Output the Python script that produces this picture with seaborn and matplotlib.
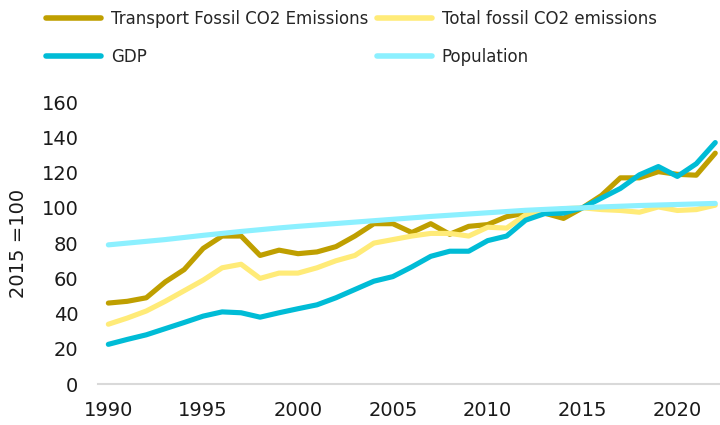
import pandas as pd
import numpy as np
import matplotlib
matplotlib.use('Agg')
import matplotlib.pyplot as plt
import seaborn as sns

sns.set_style('white')
plt.rcParams['font.family'] = ['DejaVu Sans']

years = list(range(1990, 2023))

transport = [46, 47, 49, 58, 65, 77, 84, 84, 73, 76, 74, 75, 78, 84, 91,
             91, 86, 91, 85, 89.5, 90.5, 95, 97, 97, 94, 100, 107, 117, 117,
             120.5, 119, 118.5, 131]
total = [34, 37.5, 41.5, 47, 53, 59, 66, 68, 60, 63, 63, 66, 70, 73, 80,
         82, 84, 85.5, 85.5, 84, 89, 88.5, 96, 98, 99.5, 100, 99, 98.5, 97.5,
         100.5, 98.5, 99, 101.5]
gdp = [22.6, 25.4, 28, 31.5, 35, 38.6, 41, 40.5, 38, 40.5, 42.8, 45, 49,
       53.7, 58.4, 61, 66.5, 72.5, 75.4, 75.4, 81.4, 84, 93, 96.7, 97, 100,
       105.5, 111, 118.7, 123.4, 117.8, 125, 137]
population = [79, 80, 81, 82, 83.2, 84.4, 85.5, 86.6, 87.6, 88.6, 89.5, 90.3,
              91.1, 91.9, 92.7, 93.5, 94.3, 95.1, 95.8, 96.5, 97.2, 97.9, 98.6,
              99.1, 99.6, 100, 100.5, 100.9, 101.3, 101.6, 101.9, 102.2, 102.5]

series_names = ['Transport Fossil CO2 Emissions', 'Total fossil CO2 emissions',
                'GDP', 'Population']
colors = ['#BF9F00', '#FFEB78', '#00BCD6', '#8CF0FF']

df = pd.DataFrame({'Year': years,
                   series_names[0]: transport,
                   series_names[1]: total,
                   series_names[2]: gdp,
                   series_names[3]: population})
long_df = df.melt(id_vars='Year', var_name='Series', value_name='Index')

fig = plt.figure(figsize=(7.2, 4.25), dpi=100)
ax = fig.add_axes([0.136, 0.096, 0.864, 0.664])

sns.lineplot(data=long_df, x='Year', y='Index', hue='Series',
             hue_order=series_names, palette=colors, linewidth=3.7,
             solid_capstyle='round', ax=ax, legend=False)
for line in ax.lines:
    line.set_clip_on(False)

ax.set_xlim(1989.45, 2022.25)
ax.set_ylim(0, 160)
ax.set_xticks(range(1990, 2021, 5))
ax.set_yticks(range(0, 161, 20))
ax.tick_params(axis='both', length=0, labelsize=14, colors='#1a1a1a')
ax.tick_params(axis='y', pad=14)
ax.tick_params(axis='x', pad=12)
ax.set_xlabel('')
ax.set_ylabel('2015 =100', fontsize=14, color='#1a1a1a', labelpad=10)

for side in ['left', 'right', 'top']:
    ax.spines[side].set_visible(False)
ax.spines['bottom'].set_color('#D9D9D9')
ax.spines['bottom'].set_linewidth(1.5)

# legend fills column by column, so order handles to read row by row
order = [0, 2, 1, 3]
handles = [plt.Line2D([], [], color=colors[i], linewidth=4,
                      solid_capstyle='round') for i in order]
labels = [series_names[i] for i in order]
fig.legend(handles, labels, ncol=2, loc='upper left',
           bbox_to_anchor=(0.043, 1.012), frameon=False, fontsize=12,
           handlelength=3.3, handletextpad=0.6, columnspacing=0.5,
           labelspacing=1.2)

fig.savefig('out.png', dpi=100)
